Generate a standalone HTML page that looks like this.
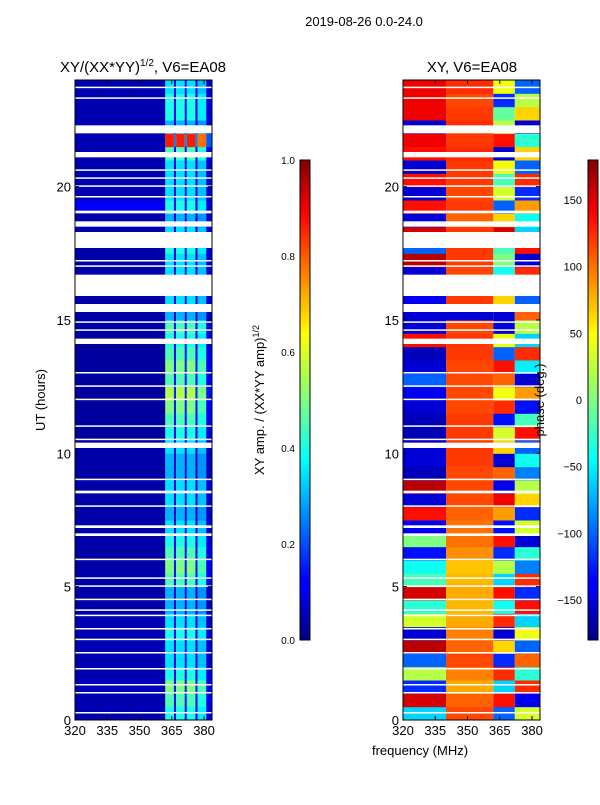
<!DOCTYPE html>
<html><head><meta charset="utf-8">
<style>
body{margin:0;background:#fff;font-family:"Liberation Sans",sans-serif;}
svg text{font-family:"Liberation Sans",sans-serif;fill:#000;}
</style></head>
<body>
<svg id="fig" width="600" height="800" xmlns="http://www.w3.org/2000/svg">
<text x="364" y="26" font-size="13" text-anchor="middle">2019-08-26 0.0-24.0</text>
<text x="143" y="72" font-size="15" text-anchor="middle">XY/(XX*YY)<tspan font-size="10" dy="-6">1/2</tspan><tspan dy="6">, V6=EA08</tspan></text>
<text x="472" y="72" font-size="15" text-anchor="middle">XY, V6=EA08</text>
<g id="left"></g>
<g id="right"></g>
<g id="axes"></g>
<text x="420" y="755" font-size="13" text-anchor="middle">frequency (MHz)</text>
<text transform="translate(45,400) rotate(-90)" font-size="13" text-anchor="middle">UT (hours)</text>
<text transform="translate(264,400) rotate(-90)" font-size="13" text-anchor="middle">XY amp. / (XX*YY amp)<tspan font-size="9" dy="-5">1/2</tspan></text>
<text transform="translate(544,400) rotate(-90)" font-size="13" text-anchor="middle">phase (deg.)</text>
<defs>
<linearGradient id="jet" x1="0" y1="1" x2="0" y2="0">
<stop offset="0" stop-color="#00007f"/><stop offset="0.11" stop-color="#0000ff"/><stop offset="0.125" stop-color="#0000ff"/><stop offset="0.34" stop-color="#00dcff"/><stop offset="0.375" stop-color="#00ffff"/><stop offset="0.5" stop-color="#7fff7f"/><stop offset="0.64" stop-color="#ffff00"/><stop offset="0.66" stop-color="#ffe600"/><stop offset="0.89" stop-color="#ff0000"/><stop offset="1" stop-color="#7f0000"/>
</linearGradient>
</defs>
<rect x="300" y="160" width="10" height="480" fill="url(#jet)" stroke="#000" stroke-width="1"/>
<rect x="588" y="160" width="10" height="480" fill="url(#jet)" stroke="#000" stroke-width="1"/>
<g id="cbticks"></g>
</svg>
<script>
// ---- data ----
const bandAmp=[.4,.45,.5,.4,.35,.35,.4,.35,.3,.3, .45,.5,.45,.4,.35,.3,.35,.35,.3,.3, .35,.4,.45,.5,.55,.45,.5,.45,.4,.45, .3,.35,.35,.35,.35,.4,.35,.3,.4,.35, .35,.35,.45,.85,.3,.4,.4,.35];
const lowAmp=[.05,.05,.06,.05,.05,.05,.05,.05,.04,.04, .04,.04,.04,.04,.04,.04,.04,.04,.04,.04, .04,.03,.03,.03,.03,.03,.03,.03,.03,.04, .04,.04,.04,.04,.04,.04,.04,.04,.12,.05, .05,.05,.05,.05,.05,.05,.05,.05];
const bandCols=[[362,366,1.0],[366,367,0.3],[367,371,1.0],[371,372,0.3],[372,376,1.0],[376,377,0.3],[377,381,0.9],[381,383.7,0.25]];
const phaseLow=[-60,150,-120,20,-100,160,-150,30,-30,150, -20,-40,-130,0,-140,130,-150,160,-160,-150, -150,-160,-160,-150,-140,-100,-150,-160,130,-150, -150,-140,-150,-150,160,-100,150,-150,130,-150, 130,-150,130,140,-150,140,140,140];
const phaseMid=[110,100,75,90,110,100,90,75,70,75, 70,65,85,95,95,100,110,110,110,115, 115,115,115,110,110,110,110,115,115,110, -150,115,110,110,115,115,115,100,115,110, 115,115,120,115,120,115,110,120];
const phaseHigh1=[-100,130,-60,120,-120,60,-150,120,-40,130, -60,20,-120,130,-130,80,140,-140,100,-150, 60,30,-130,120,40,100,130,-100,40,-150, -150,60,130,-40,0,-20,150,60,-100,30, -20,40,-150,130,20,-10,-120,40];
const phaseHigh2=[30,-140,120,-30,100,-100,40,-60,130,-120, 120,-90,-30,-150,30,-120,60,20,-90,-40, -100,130,-20,-130,80,-150,-50,120,-60,20, 100,-100,-40,120,-150,130,-60,-40,80,-120, 120,-100,60,-30,-150,60,20,-100];
const gaps=[[0.25,0.3],[1.0,1.05],[1.3,1.35],[1.9,1.95],[2.5,2.55],[3.0,3.05],[3.4,3.45],[3.9,3.95],[4.1,4.15],[4.5,4.55],[5.0,5.05],[5.3,5.35],[6.0,6.05],[6.9,7.0],[7.2,7.3],[8.0,8.05],[8.5,8.6],[9.0,9.05],[10.2,10.4],[10.5,10.55],[11.0,11.05],[12.0,12.05],[12.5,12.55],[13.0,13.05],[14.1,14.3],[14.6,14.65],[14.9,14.95],[15.3,15.6],[15.9,16.7],[17.0,17.05],[17.2,17.25],[17.7,18.3],[18.5,18.7],[19.0,19.1],[19.6,19.65],[20.0,20.05],[20.3,20.35],[20.6,20.65],[21.1,21.3],[22.0,22.3],[23.3,23.35],[23.7,23.75]];
const xTicks=[320,335,350,365,380];
const yTicks=[0,5,10,15,20];
const ampTicks=[0.0,0.2,0.4,0.6,0.8,1.0];
const phaseTicks=[-150,-100,-50,0,50,100,150];
// ---- scales ----
const NS='http://www.w3.org/2000/svg';
const T0=80,T1=720,FMIN=320,FMAX=383.7,PW=137;
const yS=h=>T1-(h/24)*(T1-T0);
const xS=(f,x0)=>x0+(f-FMIN)/(FMAX-FMIN)*PW;
function jet(v){v=Math.max(0,Math.min(1,v));
 const r=Math.min(4*v-1.5,-4*v+4.5),g=Math.min(4*v-0.5,-4*v+3.5),b=Math.min(4*v+0.5,-4*v+2.5);
 const c=x=>Math.round(255*Math.max(0,Math.min(1,x)));return `rgb(${c(r)},${c(g)},${c(b)})`;}
function rect(p,x,y,w,h,fill){const r=document.createElementNS(NS,'rect');
 r.setAttribute('x',x);r.setAttribute('y',y);r.setAttribute('width',w);r.setAttribute('height',h);r.setAttribute('fill',fill);p.appendChild(r);return r;}
const L=document.getElementById('left'),R=document.getElementById('right');
const dh=0.5;
for(let i=0;i<bandAmp.length;i++){
 const y=yS((i+1)*dh),h=yS(i*dh)-y;
 const a=rect(L,xS(320,75),y,xS(362,75)-xS(320,75),h+0.5,jet(lowAmp[i]));
 
 
 bandCols.forEach(c=>{const r=rect(L,xS(c[0],75),y,xS(c[1],75)-xS(c[0],75),h+0.5,jet(bandAmp[i]*c[2]));
  
  });
 const segs=[[320,340,phaseLow[i]],[340,362,phaseMid[i]],[362,372,phaseHigh1[i]],[372,383.7,phaseHigh2[i]]];
 segs.forEach(s=>{const r=rect(R,xS(s[0],403),y,xS(s[1],403)-xS(s[0],403),h+0.5,jet((s[2]+180)/360));
  
  });
}
gaps.forEach(g=>{[75,403].forEach(x0=>{const y=yS(g[1]);const r=rect(x0==75?L:R,x0,y,PW,Math.max(1.5,yS(g[0])-y),'#fff');
 
 });});
// axes
const A=document.getElementById('axes');
function line(x1,y1,x2,y2){const l=document.createElementNS(NS,'line');l.setAttribute('x1',x1);l.setAttribute('y1',y1);l.setAttribute('x2',x2);l.setAttribute('y2',y2);l.setAttribute('stroke','#000');A.appendChild(l);return l;}
function txt(p,x,y,s,anchor){const t=document.createElementNS(NS,'text');t.setAttribute('x',x);t.setAttribute('y',y);t.setAttribute('font-size','13');t.setAttribute('text-anchor',anchor);t.textContent=s;p.appendChild(t);return t;}
[75,403].forEach(x0=>{
 const f=rect(A,x0,T0,PW,T1-T0,'none');f.setAttribute('stroke','#000');
 
 
 xTicks.forEach(v=>{const x=xS(v,x0);line(x,T1,x,T1-4);line(x,T0,x,T0+4);
  const t=txt(A,x,T1+15,String(v),'middle');
  
  });
 yTicks.forEach(v=>{const y=yS(v);line(x0,y,x0+4,y);line(x0+PW,y,x0+PW-4,y);
  const t=txt(A,x0-4,y+5,String(v),'end');
  
  });
});
const C=document.getElementById('cbticks');
ampTicks.forEach(v=>{const y=640-v*480;
 const t=txt(C,295,y+4,v.toFixed(1),'end');t.setAttribute('font-size','10');
 
 });
phaseTicks.forEach(v=>{const y=400-v/180*240;
 const t=txt(C,582,y+4,v<0?'\u2212'+(-v):String(v),'end');t.setAttribute('font-size','11');
 
 });
</script>
</body></html>
